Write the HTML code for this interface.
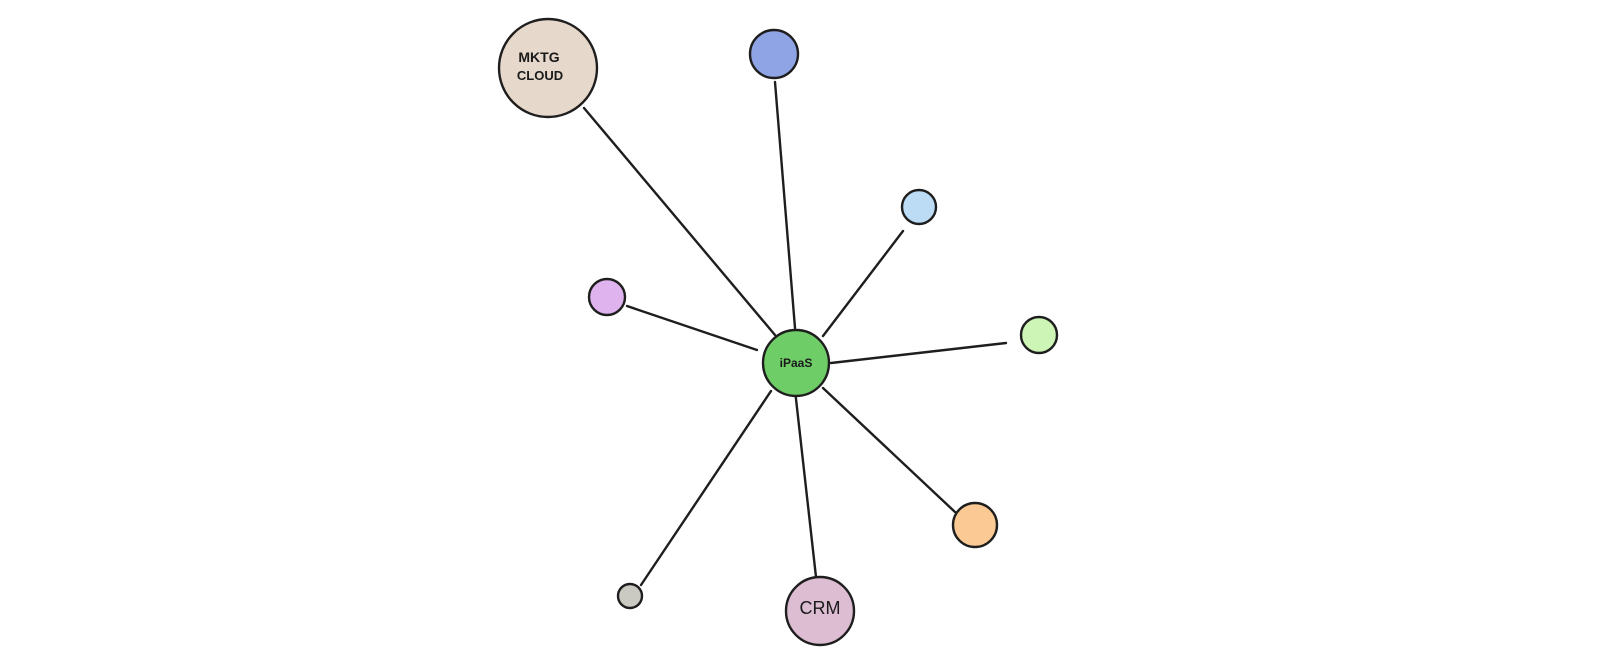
<!DOCTYPE html>
<html><head><meta charset="utf-8"><style>
html,body{margin:0;padding:0;background:#fff;}
svg{display:block;}
text{font-family:"Liberation Sans",sans-serif;fill:#1a1a1a;}
</style></head><body>
<svg width="1600" height="663" viewBox="0 0 1600 663" xmlns="http://www.w3.org/2000/svg">
<g stroke="#1e1e1e" stroke-width="2.4" stroke-linecap="round">
<line x1="584" y1="108" x2="775" y2="335"/>
<line x1="775" y1="82" x2="795" y2="328"/>
<line x1="903" y1="231" x2="823" y2="336"/>
<line x1="627" y1="306" x2="757" y2="350"/>
<line x1="831" y1="363" x2="1006" y2="343"/>
<line x1="823" y1="388" x2="955" y2="512"/>
<line x1="795" y1="390" x2="816" y2="577"/>
<line x1="771" y1="391" x2="641" y2="585"/>
</g>
<g stroke="#1e1e1e" stroke-width="2.4">
<circle cx="548" cy="68" r="49" fill="#e6d8cb"/>
<circle cx="774" cy="54" r="24" fill="#8fa4e4"/>
<circle cx="919" cy="207" r="17" fill="#bcdcf5"/>
<circle cx="607" cy="297" r="18" fill="#dfb3ee"/>
<circle cx="1039" cy="335" r="18" fill="#ccf5b6"/>
<circle cx="796" cy="363" r="33" fill="#6fcd68"/>
<circle cx="975" cy="525" r="22" fill="#fbca94"/>
<circle cx="630" cy="596" r="12" fill="#cacac2"/>
<circle cx="820" cy="611" r="34" fill="#dcbdd2"/>
</g>
<text x="539" y="62" font-size="14" text-anchor="middle" font-weight="bold">MKTG</text>
<text x="540" y="80" font-size="13" text-anchor="middle" font-weight="bold">CLOUD</text>
<text x="796" y="367" font-size="12" text-anchor="middle" font-weight="bold">iPaaS</text>
<text x="820" y="614" font-size="18" text-anchor="middle">CRM</text>
</svg>
</body></html>
